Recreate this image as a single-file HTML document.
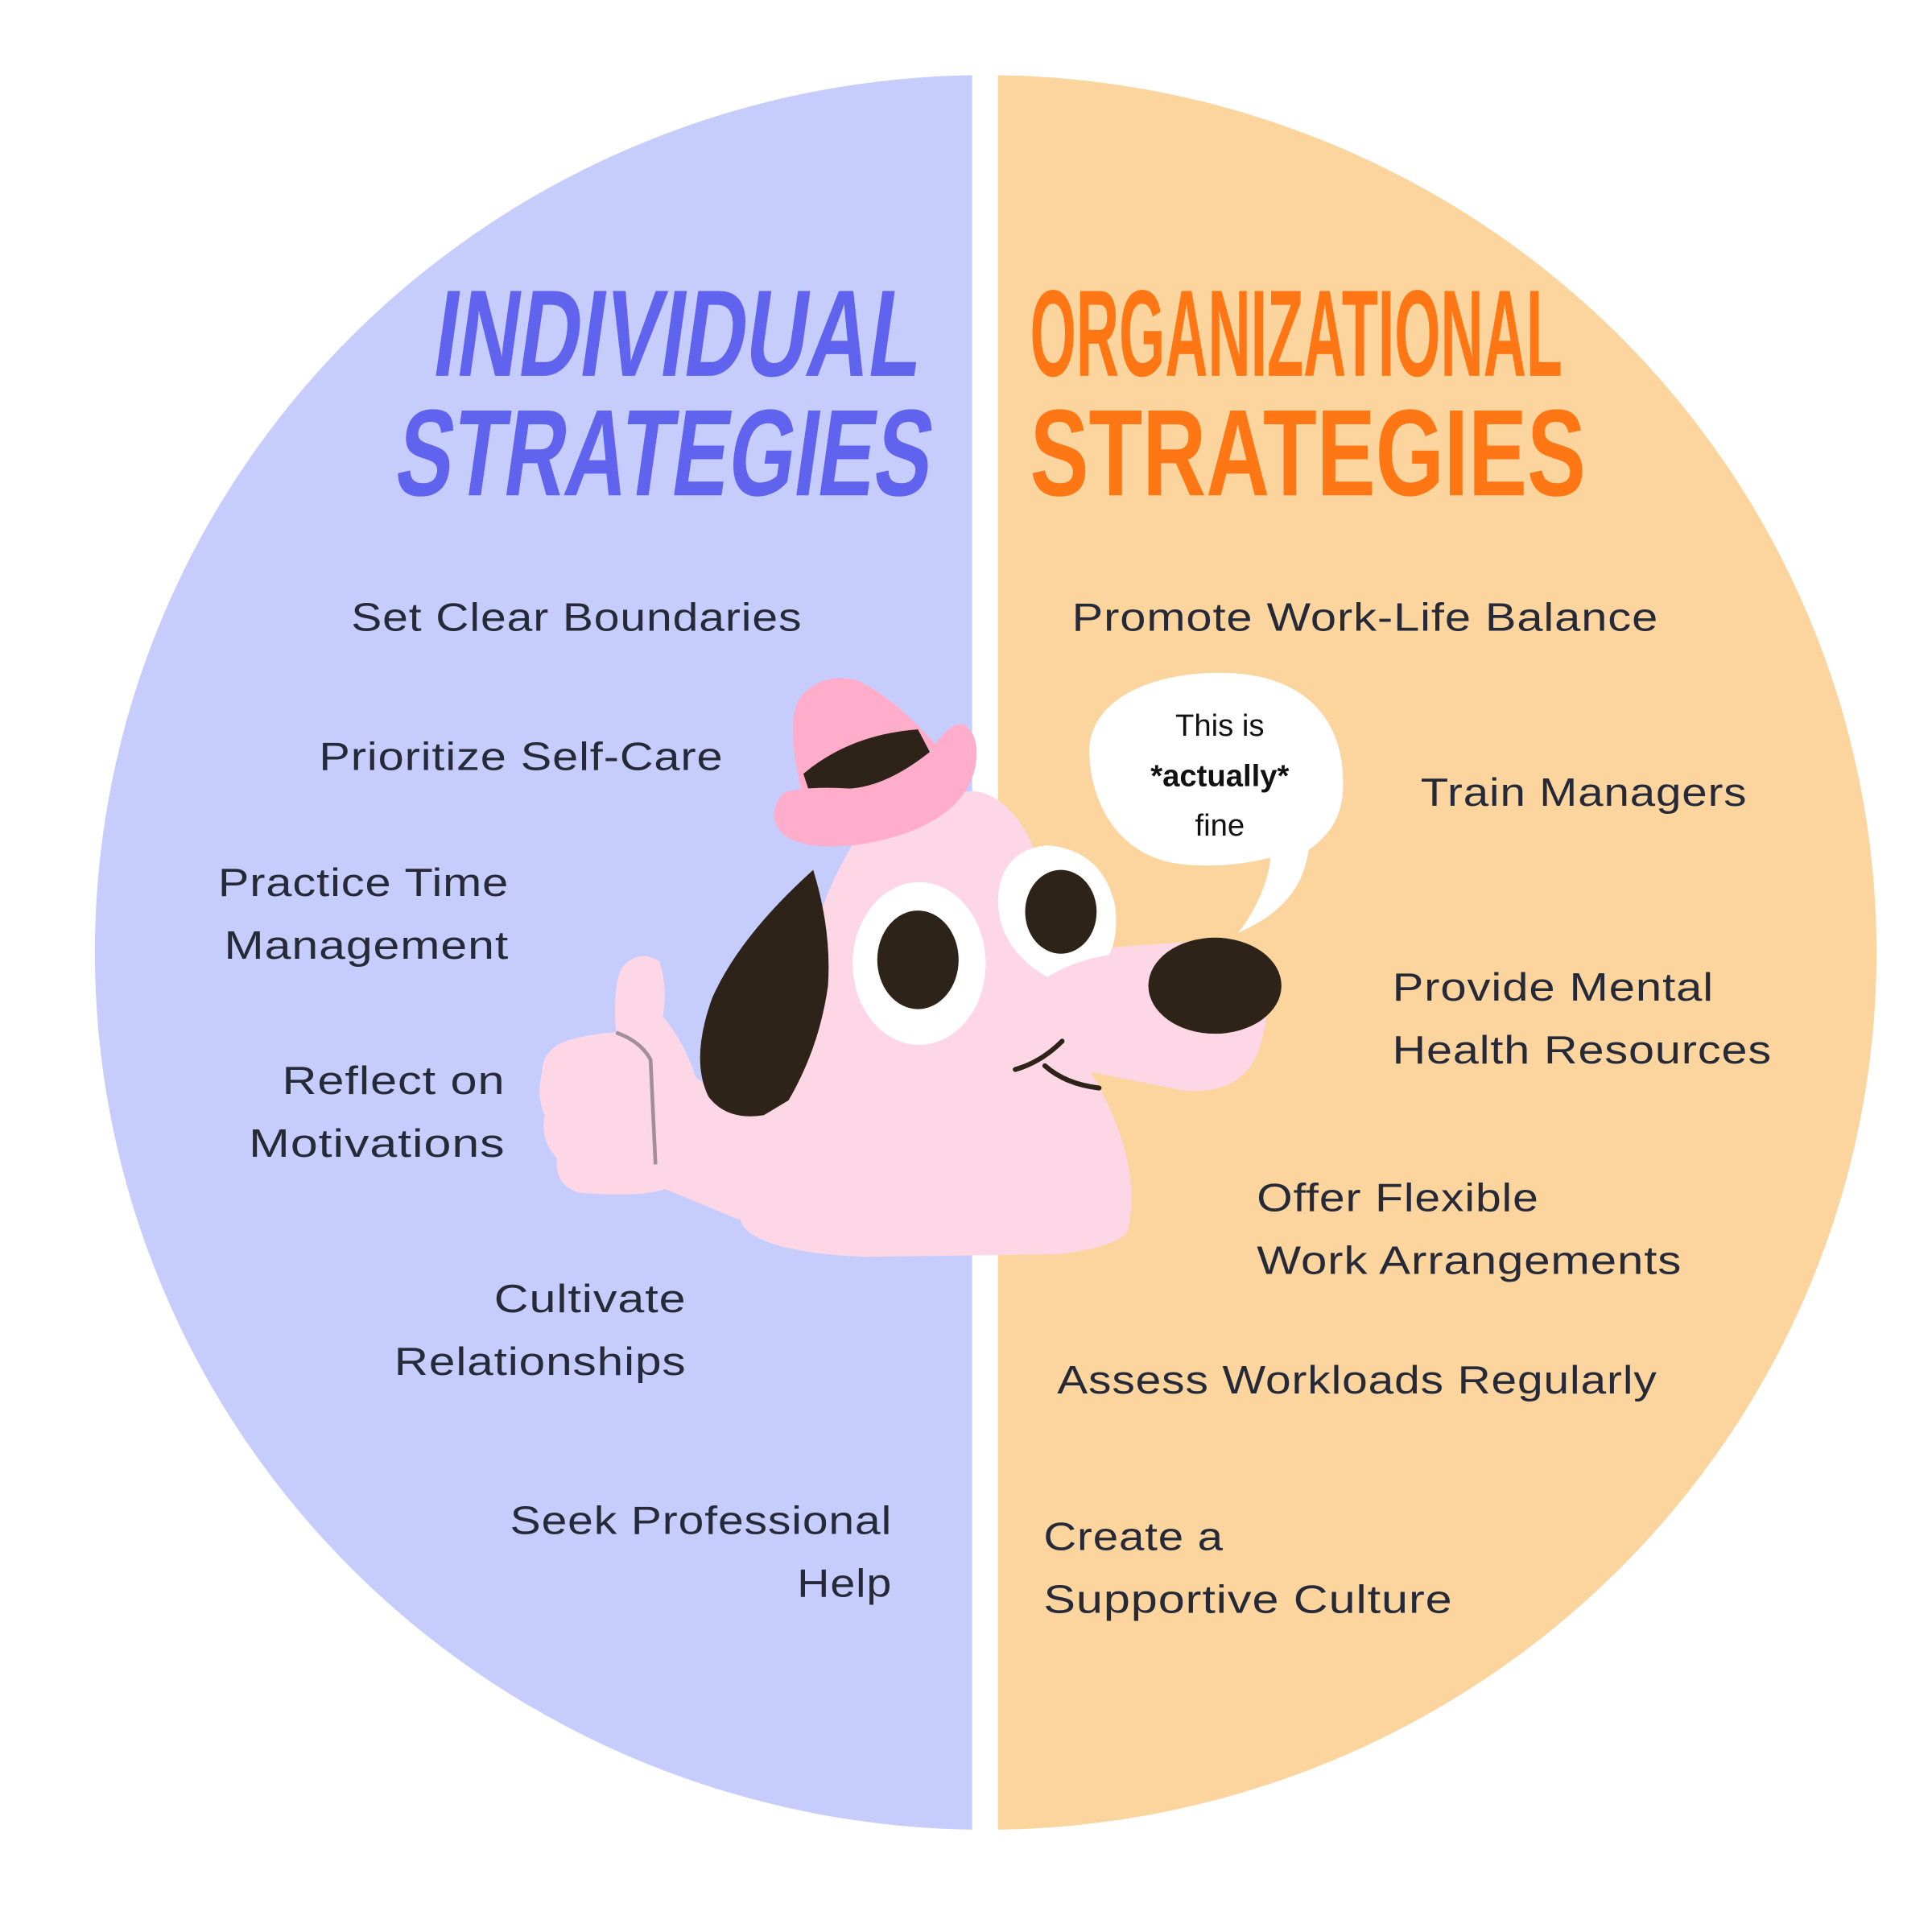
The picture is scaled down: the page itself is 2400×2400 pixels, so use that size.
<!DOCTYPE html>
<html><head><meta charset="utf-8"><style>
html,body{margin:0;padding:0;background:#fff}
svg{display:block}
.t{font-family:"Liberation Sans",sans-serif;font-size:32px;fill:#262a38;letter-spacing:0.5px}
.h{font-family:"Liberation Sans",sans-serif;font-weight:bold;font-size:100px}
</style></head><body>
<svg width="2400" height="2400" viewBox="0 0 1568 1568" xmlns="http://www.w3.org/2000/svg">
<defs>
<clipPath id="cl"><rect x="0" y="0" width="789" height="1568"/></clipPath>
<clipPath id="cr"><rect x="810" y="0" width="800" height="1568"/></clipPath>
</defs>
<ellipse cx="800" cy="773" rx="723" ry="712" fill="#c6cdfc" clip-path="url(#cl)"/>
<ellipse cx="800" cy="773" rx="723" ry="712" fill="#fbd49e" clip-path="url(#cr)"/>

<g transform="skewX(-8)">
<text class="h" x="392" y="305" fill="#5f63ee" textLength="395" lengthAdjust="spacingAndGlyphs">INDIVIDUAL</text>
<text class="h" x="375" y="402" fill="#5f63ee" textLength="434" lengthAdjust="spacingAndGlyphs">STRATEGIES</text>
</g>
<text class="h" x="836" y="305" fill="#ff7715" textLength="432" lengthAdjust="spacingAndGlyphs">ORGANIZATIONAL</text>
<text class="h" x="836" y="402" fill="#ff7715" textLength="451" lengthAdjust="spacingAndGlyphs">STRATEGIES</text>

<g class="t">
<text x="651" y="512" text-anchor="end" textLength="366" lengthAdjust="spacingAndGlyphs">Set Clear Boundaries</text>
<text x="587" y="625" text-anchor="end" textLength="328" lengthAdjust="spacingAndGlyphs">Prioritize Self-Care</text>
<text x="413" y="727" text-anchor="end" textLength="236" lengthAdjust="spacingAndGlyphs">Practice Time</text>
<text x="413" y="778" text-anchor="end" textLength="231" lengthAdjust="spacingAndGlyphs">Management</text>
<text x="410" y="888" text-anchor="end" textLength="181" lengthAdjust="spacingAndGlyphs">Reflect on</text>
<text x="410" y="939" text-anchor="end" textLength="208" lengthAdjust="spacingAndGlyphs">Motivations</text>
<text x="557" y="1065" text-anchor="end" textLength="156" lengthAdjust="spacingAndGlyphs">Cultivate</text>
<text x="557" y="1116" text-anchor="end" textLength="237" lengthAdjust="spacingAndGlyphs">Relationships</text>
<text x="724" y="1245" text-anchor="end" textLength="310" lengthAdjust="spacingAndGlyphs">Seek Professional</text>
<text x="724" y="1296" text-anchor="end" textLength="77" lengthAdjust="spacingAndGlyphs">Help</text>

<text x="870" y="512" textLength="476" lengthAdjust="spacingAndGlyphs">Promote Work-Life Balance</text>
<text x="1153" y="654" textLength="265" lengthAdjust="spacingAndGlyphs">Train Managers</text>
<text x="1130" y="812" textLength="261" lengthAdjust="spacingAndGlyphs">Provide Mental</text>
<text x="1130" y="863" textLength="308" lengthAdjust="spacingAndGlyphs">Health Resources</text>
<text x="1020" y="983" textLength="229" lengthAdjust="spacingAndGlyphs">Offer Flexible</text>
<text x="1020" y="1034" textLength="345" lengthAdjust="spacingAndGlyphs">Work Arrangements</text>
<text x="858" y="1131" textLength="487" lengthAdjust="spacingAndGlyphs">Assess Workloads Regularly</text>
<text x="847" y="1258" textLength="146" lengthAdjust="spacingAndGlyphs">Create a</text>
<text x="847" y="1309" textLength="332" lengthAdjust="spacingAndGlyphs">Supportive Culture</text>
</g>

<!-- speech bubble -->
<path d="M990 546 C1060 546 1092 585 1090 640 C1089 665 1078 678 1062 690 C1058 720 1040 742 1005 757 C1022 735 1030 712 1031 696 C1010 702 975 705 950 700 C905 690 885 650 884 610 C884 570 930 546 990 546 Z" fill="#fff"/>
<g font-family="Liberation Sans,sans-serif" font-size="25" fill="#111" text-anchor="middle">
<text x="990" y="597">This is</text>
<text x="990" y="638" font-weight="bold">*actually*</text>
<text x="990" y="678">fine</text>
</g>

<!-- dog body/head -->
<g fill="#fdd7e5">
<path d="M600 985 Q600 1015 700 1020 L860 1018 Q905 1012 915 1000 Q925 960 905 910 Q895 885 885 870 L960 885 Q1015 890 1025 840 Q1035 805 1020 775 L980 763 Q920 768 880 770 Q870 720 840 690 Q820 645 790 642 L720 650 Q680 690 660 760 Q640 820 620 870 L600 880 L560 880 L540 960 Z"/>
<path d="M540 965 Q520 972 470 968 Q450 962 452 940 Q438 925 442 905 Q435 890 440 870 Q440 848 470 842 Q490 838 500 838 Q497 800 505 785 Q518 770 535 780 Q542 800 538 825 Q555 845 565 875 L612 905 L600 990 Z"/>
</g>
<path d="M500 838 Q520 845 528 860 L532 945" fill="none" stroke="#a18e98" stroke-width="3"/>
<!-- ear -->
<path d="M660 706 Q600 760 578 810 Q560 860 575 890 Q590 910 620 905 L640 893 Q665 850 672 800 Q675 755 660 706 Z" fill="#2e2318"/>
<!-- eyes -->
<ellipse cx="746" cy="782" rx="54" ry="66" fill="#fff"/>
<ellipse cx="745" cy="779" rx="33" ry="40" fill="#2e2318"/>
<path d="M850 793 Q810 770 810 730 Q812 690 850 686 Q895 690 905 735 Q908 760 900 775 Q870 780 850 793 Z" fill="#fff"/>
<ellipse cx="861" cy="740" rx="29" ry="34" fill="#2e2318"/>
<!-- nose -->
<ellipse cx="986" cy="800" rx="54" ry="39" fill="#2e2318"/>
<!-- mouth -->
<path d="M824 868 Q845 862 862 845 M848 865 Q865 880 892 883" fill="none" stroke="#2e2318" stroke-width="4" stroke-linecap="round"/>
<!-- hat -->
<path d="M650 640 Q638 590 648 568 Q665 545 695 552 Q725 565 760 605 L700 650 Z" fill="#ffadca"/>
<path d="M652 628 Q690 596 745 592 L755 611 Q720 640 698 642 Q670 642 656 640 Z" fill="#2e2318"/>
<path d="M640 642 Q660 638 690 640 Q720 638 755 610 Q770 586 782 588 Q795 595 792 620 Q785 660 730 678 Q690 690 660 686 Q630 682 628 662 Q630 645 640 642 Z" fill="#ffadca"/>
</svg>
</body></html>
